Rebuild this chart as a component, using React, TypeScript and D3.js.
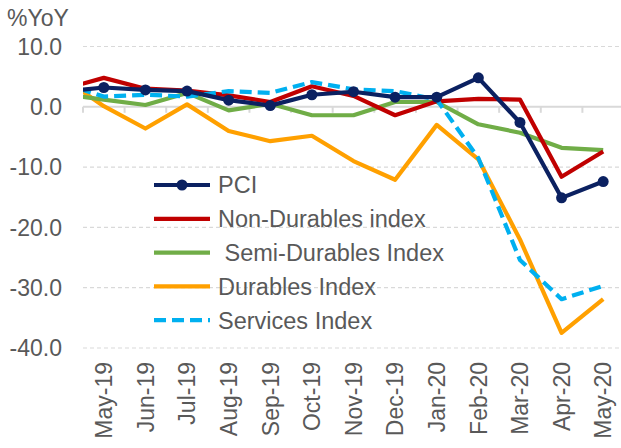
import React from 'react';
import * as d3 from 'd3';

// first entry (Apr-19) sits left of the plot and is clipped, like the source chart
const months = ['Apr-19', 'May-19', 'Jun-19', 'Jul-19', 'Aug-19', 'Sep-19', 'Oct-19', 'Nov-19', 'Dec-19', 'Jan-20', 'Feb-20', 'Mar-20', 'Apr-20', 'May-20'];
const pci = [2.5, 3.2, 2.8, 2.6, 1.1, 0.2, 2.0, 2.5, 1.6, 1.6, 4.8, -2.6, -15.1, -12.4];
const nonDurables = [2.9, 4.8, 3.0, 2.7, 1.9, 0.8, 3.4, 1.8, -1.4, 0.9, 1.3, 1.2, -11.6, -7.4];
const semiDurables = [2.1, 1.2, 0.3, 2.3, -0.6, 0.5, -1.4, -1.4, 0.8, 0.8, -2.9, -4.3, -6.8, -7.2];
const durables = [4.9, 0.1, -3.6, 0.4, -4.0, -5.7, -4.8, -9.0, -12.1, -3.0, -8.7, -22.0, -37.5, -31.9];
const services = [3.9, 1.7, 2.0, 1.7, 2.6, 2.3, 4.1, 2.9, 2.6, 1.2, -8.5, -25.4, -31.9, -29.7];
const yTicks = [10, 0, -10, -20, -30, -40];

const series = [
  { name: 'Durables Index', values: durables, color: '#FFA000', dash: '' },
  { name: ' Semi-Durables Index', values: semiDurables, color: '#70AD47', dash: '' },
  { name: 'Non-Durables index', values: nonDurables, color: '#C00000', dash: '' },
  { name: 'Services Index', values: services, color: '#00B0F0', dash: '12,6' },
  { name: 'PCI', values: pci, color: '#0B2161', dash: '', marker: true },
];
const legendOrder = ['PCI', 'Non-Durables index', ' Semi-Durables Index', 'Durables Index', 'Services Index'];

const W = 621;
const H = 448;
const left = 83;
const right = 624;
const font = '"Liberation Sans", Arial, sans-serif';
const textColor = '#595959';

export default function App() {
  const x = d3.scaleLinear().domain([0.5, months.length - 0.5]).range([left, right]);
  const y = d3.scaleLinear().domain([-40, 10]).range([348, 46.5]);
  const line = d3.line<number>().x((d, i) => x(i)).y(d => y(d));
  const y0 = y(0);

  return (
    <svg width={W} height={H} style={{ position: 'absolute', left: 0, top: 0, background: '#fff' }} fontFamily={font}>
      <defs>
        <clipPath id="plot">
          <rect x={left} y={0} width={W - left} height={H} />
        </clipPath>
      </defs>

      {/* grid */}
      {yTicks.filter(t => t !== 0).map(t => (
        <line key={t} x1={left} x2={W} y1={y(t)} y2={y(t)} stroke="#d9d9d9" strokeWidth={1.2} strokeDasharray="4,3" />
      ))}
      <line x1={left} x2={W} y1={y0} y2={y0} stroke="#d9d9d9" strokeWidth={2} />
      {d3.range(0.5, months.length, 1).map(b => (
        <line key={b} x1={x(b)} x2={x(b)} y1={y0} y2={y0 + 6} stroke="#d9d9d9" strokeWidth={2} />
      ))}

      {/* y labels */}
      {yTicks.map(t => (
        <text key={t} x={62} y={y(t)} dy="0.36em" textAnchor="end" fontSize={23} fill={textColor}>
          {t.toFixed(1)}
        </text>
      ))}
      <text x={7} y={18} dy="0.36em" fontSize={23} fill={textColor}>%YoY</text>

      {/* x labels */}
      {months.slice(1).map((m, i) => (
        <text key={m} transform={`translate(${x(i + 1)},362) rotate(-90)`} dy="0.36em" textAnchor="end" fontSize={23} fill={textColor}>
          {m}
        </text>
      ))}

      {/* series */}
      <g clipPath="url(#plot)">
        {series.map(s => (
          <g key={s.name}>
            <path d={line(s.values) || ''} fill="none" stroke={s.color} strokeWidth={4.2} strokeDasharray={s.dash} strokeLinejoin="round" />
            {s.marker && s.values.map((v, i) => (
              <circle key={i} cx={x(i)} cy={y(v)} r={5.5} fill={s.color} />
            ))}
          </g>
        ))}
      </g>

      {/* legend */}
      {legendOrder.map((name, i) => {
        const s = series.find(d => d.name === name)!;
        const ly = 185 + i * 33.8;
        return (
          <g key={name}>
            <line x1={154} x2={210} y1={ly} y2={ly} stroke={s.color} strokeWidth={4.2} strokeDasharray={s.dash} />
            {s.marker && <circle cx={182} cy={ly} r={5.5} fill={s.color} />}
            <text x={218} y={ly} dy="0.36em" fontSize={23.5} fill={textColor} style={{ whiteSpace: 'pre' }}>{name}</text>
          </g>
        );
      })}
    </svg>
  );
}
